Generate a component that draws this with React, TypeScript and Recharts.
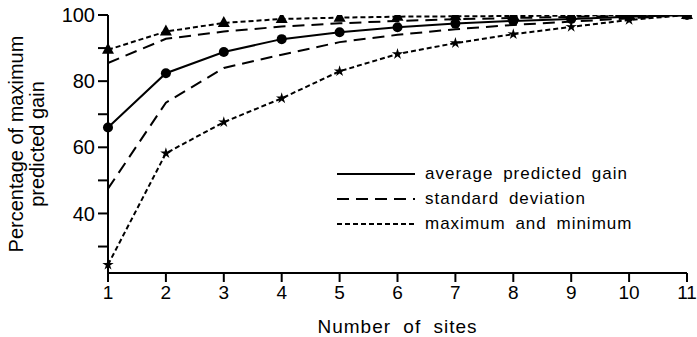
import { Line, LineChart, XAxis, YAxis } from "recharts"

// values
const sites = [1, 2, 3, 4, 5, 6, 7, 8, 9, 10, 11]
const average = [66, 82.4, 88.8, 92.7, 94.8, 96.3, 97.4, 98.2, 98.8, 99.5, 100]
const sdUpper = [85.5, 92.8, 95, 96.5, 97.5, 98.2, 98.7, 99.1, 99.4, 99.8, 100]
const sdLower = [47.5, 73.5, 84, 88, 91.8, 94, 95.7, 97, 98, 99, 100]
const maximum = [89.5, 95, 97.6, 98.8, 99.2, 99.5, 99.6, 99.7, 99.8, 100, 100]
const minimum = [24.5, 58.2, 67.6, 74.8, 83, 88.2, 91.5, 94.2, 96.4, 98.5, 100]
const yTicks = [30, 40, 50, 60, 70, 80, 90, 100]
const xTicks = sites

const data = sites.map((s, i) => ({
  site: s,
  average: average[i],
  sdUpper: sdUpper[i],
  sdLower: sdLower[i],
  maximum: maximum[i],
  minimum: minimum[i],
}))

const font = "'Liberation Sans', Arial, sans-serif"

const Circle = (p: any) => <circle key={p.index} cx={p.cx} cy={p.cy} r={5} fill="#000" />

const Triangle = (p: any) => {
  const { cx, cy } = p
  return <polygon key={p.index} points={`${cx},${cy - 7} ${cx - 6},${cy + 4} ${cx + 6},${cy + 4}`} fill="#000" />
}

const Star = (p: any) => {
  const { cx, cy } = p
  const pts: string[] = []
  for (let k = 0; k < 10; k++) {
    const r = k % 2 === 0 ? 6 : 2.2
    const a = -Math.PI / 2 + (k * Math.PI) / 5
    pts.push(`${cx + r * Math.cos(a)},${cy + r * Math.sin(a)}`)
  }
  return <polygon key={p.index} points={pts.join(" ")} fill="#000" />
}

const legendRows = [
  { label: "average predicted gain", dash: "" },
  { label: "standard deviation", dash: "12 7" },
  { label: "maximum and minimum", dash: "5 3" },
]

const LegendBox = () => (
  <div
    style={{
      position: "absolute",
      left: 337,
      top: 161,
      fontFamily: font,
      fontSize: 17,
      letterSpacing: 1,
      color: "#000",
    }}
  >
    {legendRows.map((r) => (
      <div key={r.label} style={{ display: "flex", alignItems: "center", height: 25 }}>
        <svg width={78} height={10} style={{ marginRight: 10 }}>
          <line x1={0} y1={5} x2={78} y2={5} stroke="#000" strokeWidth={2} strokeDasharray={r.dash} />
        </svg>
        <span style={{ wordSpacing: 4 }}>{r.label}</span>
      </div>
    ))}
  </div>
)

export default function App() {
  return (
    <div style={{ position: "absolute", left: 0, top: 0, width: 697, height: 337, background: "#fff" }}>
      <LineChart width={697} height={337} data={data} margin={{ top: 15, right: 10, left: 48, bottom: 24 }}>
        <XAxis
          dataKey="site"
          type="number"
          domain={[1, 11]}
          ticks={xTicks}
          tickSize={9}
          tickMargin={4}
          stroke="#000"
          strokeWidth={2}
          tick={{ fill: "#000", fontSize: 19, fontFamily: font }}
          height={40}
          label={{
            value: "Number of sites",
            position: "insideBottom",
            offset: -20,
            fill: "#000",
            fontSize: 19,
            fontFamily: font,
            style: { letterSpacing: 1, wordSpacing: 6 },
          }}
        />
        <YAxis
          type="number"
          domain={[22, 100]}
          ticks={yTicks}
          tickSize={10}
          tickMargin={3}
          stroke="#000"
          strokeWidth={2}
          width={60}
          tickFormatter={(v: number) => (v % 20 === 0 ? String(v) : "")}
          tick={{ fill: "#000", fontSize: 20, fontFamily: font }}
          allowDataOverflow
        />
        <Line dataKey="maximum" stroke="#000" strokeWidth={2} strokeDasharray="5 3" dot={Triangle} isAnimationActive={false} />
        <Line dataKey="sdUpper" stroke="#000" strokeWidth={2} strokeDasharray="12 7" dot={false} isAnimationActive={false} />
        <Line dataKey="average" stroke="#000" strokeWidth={2} dot={Circle} isAnimationActive={false} />
        <Line dataKey="sdLower" stroke="#000" strokeWidth={2} strokeDasharray="12 7" dot={false} isAnimationActive={false} />
        <Line dataKey="minimum" stroke="#000" strokeWidth={2} strokeDasharray="5 3" dot={Star} isAnimationActive={false} />
      </LineChart>
      <LegendBox />
      <div
        style={{
          position: "absolute",
          left: 27,
          top: 144,
          transform: "translate(-50%, -50%) rotate(-90deg)",
          fontFamily: font,
          fontSize: 20,
          lineHeight: "21px",
          textAlign: "center",
          whiteSpace: "nowrap",
          color: "#000",
        }}
      >
        Percentage of maximum
        <br />
        predicted gain
      </div>
    </div>
  )
}
